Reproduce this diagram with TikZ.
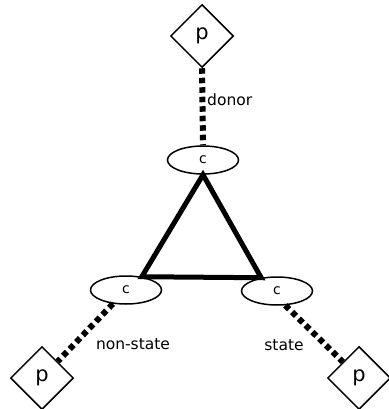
\documentclass[tikz,border=0pt]{standalone}
\usepackage{fontspec}
\setmainfont{DejaVu Sans}
\usetikzlibrary{shapes.geometric}
\begin{document}
\begin{tikzpicture}[x=1pt,y=-1pt,
  pnode/.style={diamond, draw, line width=1.5pt, aspect=1, minimum width=63pt, minimum height=63pt, inner sep=0pt, font=\fontsize{21}{23}\selectfont},
  cnode/.style={ellipse, draw, line width=1.5pt, minimum width=71pt, minimum height=28pt, inner sep=0pt, font=\fontsize{14}{16}\selectfont},
  dots/.style={line width=6pt, dash pattern=on 5.5pt off 4pt},
  tri/.style={line width=5pt, line join=miter},
  lbl/.style={font=\fontsize{15.5}{18}\selectfont, inner sep=0pt}]
\useasboundingbox (0,0) rectangle (388,409);
\node[pnode] (pt) at (202,36) {p};
\node[cnode] (ct) at (203,160) {c};
\node[cnode] (cl) at (126,290) {c};
\node[cnode] (cr) at (277,291) {c};
\node[pnode] (pl) at (42,378) {p};
\node[pnode] (pr) at (359,378) {p};
\draw[dots] (pt.south) -- (ct.north);
\draw[dots] (cl) -- (pl);
\draw[dots] (cr.-60) -- (pr.north west);
\draw[tri] (ct.south) -- (cl.40) -- (cr.140) -- cycle;
\node[lbl, anchor=west] (ldonor) at (207,100) {donor};
\node[lbl] (lnon) at (133,344) {non-state};
\node[lbl] (lstate) at (284,345) {state};
\end{tikzpicture}
\end{document}
